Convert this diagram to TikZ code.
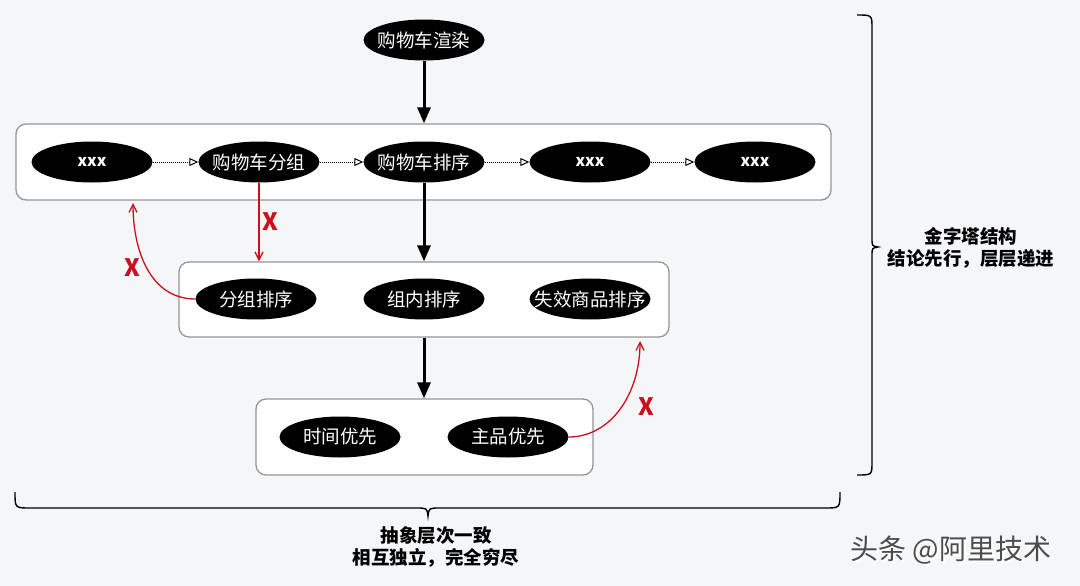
\documentclass[tikz,border=0pt]{standalone}
\usepackage{fontspec}
\setmainfont{Noto Sans CJK SC}
\usetikzlibrary{arrows.meta,shapes.geometric}
\definecolor{bgcol}{RGB}{245,246,248}
\definecolor{xred}{RGB}{200,16,30}
\definecolor{boxline}{RGB}{150,150,150}
\begin{document}
\begin{tikzpicture}[x=1pt, y=-1pt,
	oval/.style={ellipse, fill=black, text=white, minimum width=121pt, minimum height=41pt, inner xsep=-14pt, inner ysep=0pt, font=\fontsize{18.5}{20}\selectfont},
	group/.style={draw=boxline, line width=1.3pt, fill=white, rounded corners=10pt, inner sep=0pt},
	flow/.style={densely dotted, line width=1pt, -{Triangle[open, length=9pt, width=8pt]}},
	down/.style={line width=3pt, -{Triangle[length=16pt, width=13pt]}},
	bad/.style={draw=xred, line width=1.3pt, -{Straight Barb[length=8pt, width=8pt]}},
	cross/.style={text=xred, font=\fontsize{24}{24}\bfseries\selectfont, inner sep=0pt},
	note/.style={align=center, font=\fontsize{18.5}{22}\bfseries\selectfont}]
	\fill[bgcol] (0,0) rectangle (1080,586);
	% boxes
	\node[group, minimum width=815pt, minimum height=76pt] (row1) at (423.5,162) {};
	\node[group, minimum width=490pt, minimum height=75pt] (row2) at (424,299.5) {};
	\node[group, minimum width=337pt, minimum height=76pt] (row3) at (424.5,437) {};
	% ovals
	\node[oval] (render) at (424,40) {购物车渲染};
	\foreach \n/\x/\t in {x1/92/{\fontsize{16}{17}\bfseries xxx}, split/259/购物车分组, sort/424/购物车排序, x4/590/{\fontsize{16}{17}\bfseries xxx}, x5/755/{\fontsize{16}{17}\bfseries xxx}}
		\node[oval] (\n) at (\x,162) {\t};
	\foreach \n/\x/\t in {gsort/256/分组排序, insort/424/组内排序, lost/590/失效商品排序}
		\node[oval] (\n) at (\x,299) {\t};
	\node[oval] (time) at (340,437) {时间优先};
	\node[oval] (main) at (508,437) {主品优先};
	% arrows
	\foreach \a/\b in {x1/split, split/sort, sort/x4, x4/x5}
		\draw[flow] (\a) -- (\b);
	\draw[down] (render.south) -- (render.south |- row1.north);
	\draw[down] (sort.south) -- (sort.south |- row2.north);
	\draw[down] (row2.south) -- (row2.south |- row3.north);
	% wrong ways
	\coordinate (up1) at (133,203);
	\coordinate (up2) at (640,341);
	\draw[bad] (split.south) -- (split.south |- row2.north) node[cross, midway, right=3pt] (c1) {X};
	\draw[bad] (gsort.west) .. controls (150,299) and (133,250) .. (up1);
	\node[cross] (c2) at (132,268) {X};
	\draw[bad] (main.east) .. controls (610,437) and (640,395) .. (up2);
	\node[cross] (c3) at (646,407) {X};
	% braces
	\draw[line width=1.4pt] (857,15) .. controls (872,15) .. (872,28) -- (872,238) .. controls (872,246) .. (878,247) .. controls (872,248) .. (872,256) -- (872,462) .. controls (872,475) .. (857,475);
	\draw[line width=1.4pt] (15,492) .. controls (15,508) .. (30,508) -- (416,508) .. controls (427,508) .. (428,516) .. controls (429,508) .. (440,508) -- (825,508) .. controls (840,508) .. (840,492);
	\node[note] (pyramid) at (971,248) {金字塔结构\\结论先行，层层递进};
	\node[note] (mece) at (436,547) {抽象层次一致\\相互独立，完全穷尽};
	\node[text=white, font=\fontsize{28}{28}\selectfont] at (952.8,551.8) {头条 @阿里技术};
	\node[text=black!70, font=\fontsize{28}{28}\selectfont] (mark) at (951,550) {头条 @阿里技术};
\end{tikzpicture}
\end{document}
